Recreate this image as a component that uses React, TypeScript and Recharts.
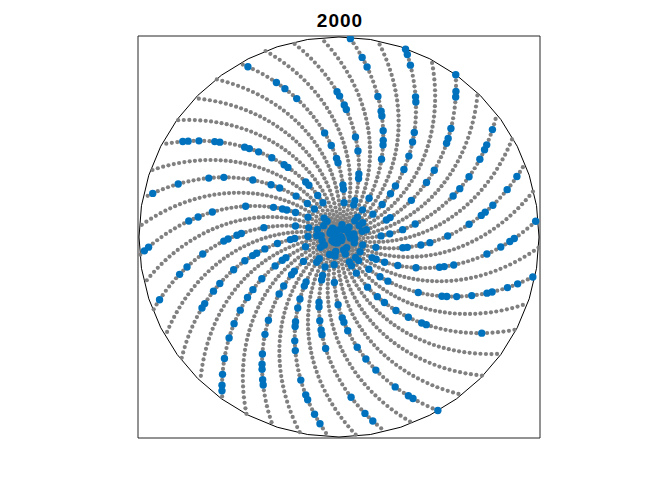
import { ScatterChart, Scatter, XAxis, YAxis, ReferenceArea } from 'recharts'

// title says 2000: the integers 1..2000, each drawn at polar (r = n, theta = n radians)
const COUNT = 2000
const NUMBERS = Array.from({ length: COUNT }, (_, i) => i + 1)

function isPrime(n: number): boolean {
  if (n < 2) return false
  for (let d = 2; d * d <= n; d++) if (n % d === 0) return false
  return true
}

// blue markers are the primes among them
const PRIMES = NUMBERS.filter(isPrime)

const RING_RADIUS = 2000
const RING_STEPS = 40
const LIMIT = 2010

const toPoint = (n: number) => ({ x: n * Math.cos(n), y: n * Math.sin(n) })

const allPoints = NUMBERS.map(toPoint)
const primePoints = PRIMES.map(toPoint)
const ring = Array.from({ length: RING_STEPS + 1 }, (_, i) => {
  const t = (i / RING_STEPS) * 2 * Math.PI
  return { x: RING_RADIUS * Math.cos(t), y: RING_RADIUS * Math.sin(t) }
})

const GrayDot = (p: any) => <circle cx={p.cx} cy={p.cy} r={2.1} fill="#808080" />
const BlueDot = (p: any) => <circle cx={p.cx} cy={p.cy} r={3.7} fill="#0072BD" />

export default function App() {
  return (
    <div style={{ position: 'absolute', left: 0, top: 0, width: 656, height: 492, background: '#fff' }}>
      <div
        style={{
          position: 'absolute', left: 240, top: 11, width: 200, textAlign: 'center',
          fontFamily: '"Liberation Sans", Arial, sans-serif', fontWeight: 'bold',
          fontSize: 19, lineHeight: '19px', letterSpacing: 1, color: '#000',
        }}
      >
        2000
      </div>
      <ScatterChart width={656} height={492} margin={{ top: 36, left: 138, right: 116, bottom: 54 }}>
        <XAxis type="number" dataKey="x" domain={[-LIMIT, LIMIT]} hide allowDataOverflow />
        <YAxis type="number" dataKey="y" domain={[-LIMIT, LIMIT]} hide allowDataOverflow />
        <ReferenceArea x1={-LIMIT} x2={LIMIT} y1={-LIMIT} y2={LIMIT} fill="none" fillOpacity={0}
          stroke="#262626" strokeWidth={1} ifOverflow="visible" />
        <Scatter data={ring} line={{ stroke: '#000', strokeWidth: 1 }} shape={() => <g />}
          isAnimationActive={false} legendType="none" />
        <Scatter data={allPoints} shape={GrayDot} isAnimationActive={false} />
        <Scatter data={primePoints} shape={BlueDot} isAnimationActive={false} />
      </ScatterChart>
    </div>
  )
}
